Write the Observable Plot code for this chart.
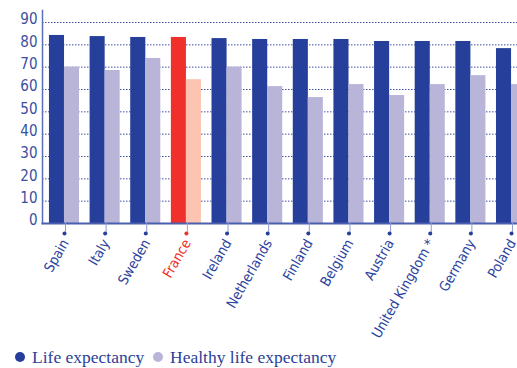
<!DOCTYPE html>
<html><head><meta charset="utf-8">
<script src="https://cdn.jsdelivr.net/npm/d3@7"></script>
<script src="https://cdn.jsdelivr.net/npm/@observablehq/plot@0.6"></script>
<style>
body{margin:0;background:#fff;}
#wrap{position:relative;width:517px;height:368px;overflow:hidden;background:#fff;}
#chart{position:absolute;left:0;top:0;}
.item{position:absolute;top:347px;height:20px;line-height:20px;font-family:"Liberation Serif","Times New Roman",serif;font-size:17.5px;color:#2c3f99;white-space:nowrap;}
.sw{position:absolute;left:0;top:5px;width:10px;height:10px;border-radius:50%;}
.lbl{position:absolute;left:17px;top:0;}
</style></head><body>
<div id="wrap"><div id="chart"></div>
<div class="item" style="left:15px"><span class="sw" style="background:#263f9a"></span><span class="lbl">Life expectancy</span></div>
<div class="item" style="left:153px"><span class="sw" style="background:#b8b5d9"></span><span class="lbl">Healthy life expectancy</span></div>
</div>
<script>
const countries = ["Spain","Italy","Sweden","France","Ireland","Netherlands","Finland","Belgium","Austria","United Kingdom *","Germany","Poland"];
const lifeExpectancy = [84.2,83.7,83.3,83.3,82.8,82.4,82.4,82.4,81.5,81.5,81.5,78.3];
const healthyLifeExpectancy = [70.0,68.5,73.9,64.4,70.0,61.3,56.4,62.2,57.3,62.2,66.2,62.2];
const yTicks = [0,10,20,30,40,50,60,70,80,90];
const highlight = "France";

const rows = countries.map((c,i)=>({country:c, life:lifeExpectancy[i], healthy:healthyLifeExpectancy[i]}));
const others = countries.filter(c=>c!==highlight);

const blue = "#263f9a", light = "#b8b5d9", red = "#f0302b", pink = "#fdc4b2";
const textBlue = "#2d43a0";
const font = "'DejaVu Sans Condensed','Liberation Sans Narrow','DejaVu Sans',sans-serif";

const chart = Plot.plot({
  width: 517, height: 340,
  marginLeft: 42, marginRight: -16, marginTop: 10, marginBottom: 117,
  style: {fontFamily: font, background: "transparent"},
  x: {domain: countries, paddingInner: 0.26, paddingOuter: 0.171, round: false, label: null},
  y: {domain: [0, 90], insetTop: 12, label: null},
  color: {domain: ["life","healthy","lifeHL","healthyHL"], range: [blue, light, red, pink]},
  marks: [
    Plot.gridY(yTicks, {stroke: "#3b51a8", strokeOpacity: 1, strokeDasharray: "1.5,1.5"}),
    Plot.barY(rows, {x: "country", y: "life", fill: d => d.country === highlight ? "lifeHL" : "life", insetRight: 15}),
    Plot.barY(rows, {x: "country", y: "healthy", fill: d => d.country === highlight ? "healthyHL" : "healthy", insetLeft: 15}),
    Plot.frame({anchor: "left", stroke: "#5a6db8", strokeWidth: 1.5}),
    Plot.frame({anchor: "bottom", stroke: "#4a5fb0", strokeWidth: 2}),
    Plot.axisY(yTicks, {tickSize: 0, tickPadding: 5, dy: -3, fill: "#3a4fa0", fontSize: 15, label: null}),
    Plot.axisX(others, {tickSize: 10, stroke: "#8e9dd2", tickRotate: -60, fill: textBlue, fontSize: 14, tickPadding: 7, dx: 1, label: null}),
    Plot.axisX([highlight], {tickSize: 10, stroke: "#f28a86", tickRotate: -60, fill: red, fontSize: 14, tickPadding: 7, dx: 1, label: null}),
    Plot.dot(others, {x: d => d, frameAnchor: "bottom", dy: 10, r: 2, fill: blue, stroke: null}),
    Plot.dot([highlight], {x: d => d, frameAnchor: "bottom", dy: 10, r: 2, fill: red, stroke: null})
  ]
});
document.getElementById("chart").appendChild(chart);
</script>
</body></html>
